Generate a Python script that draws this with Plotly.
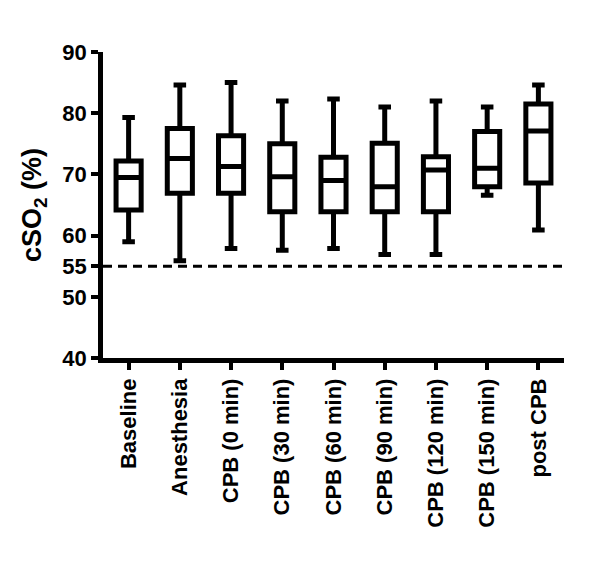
import plotly.graph_objects as go

# box plot summary values (cSO2 %)
stages = ["Baseline", "Anesthesia", "CPB (0 min)", "CPB (30 min)", "CPB (60 min)",
          "CPB (90 min)", "CPB (120 min)", "CPB (150 min)", "post CPB"]
low = [59.0, 55.9, 57.9, 57.6, 57.9, 56.9, 56.9, 66.6, 60.9]
q1 = [64.2, 66.9, 66.9, 63.9, 63.9, 63.9, 63.9, 68.0, 68.6]
med = [69.5, 72.6, 71.3, 69.6, 69.0, 68.0, 70.7, 71.0, 77.1]
q3 = [72.2, 77.5, 76.3, 75.0, 72.8, 75.1, 72.9, 77.0, 81.5]
high = [79.3, 84.6, 85.0, 82.0, 82.3, 81.0, 82.0, 81.0, 84.6]

threshold = 55
yticks = [40, 50, 55, 60, 70, 80, 90]

fnt = "Liberation Sans, Arial, sans-serif"

fig = go.Figure()
fig.add_trace(go.Box(
    x=stages, q1=q1, median=med, q3=q3, lowerfence=low, upperfence=high,
    fillcolor="white", line=dict(color="black", width=5),
    whiskerwidth=0.5, boxpoints=False, showlegend=False,
))

# dashed reference line at 55 %
fig.add_shape(type="line", xref="paper", x0=0, x1=1, y0=threshold, y1=threshold,
              line=dict(color="black", width=3, dash="9px,6px"))

# page body adds 8px, so margins are offset to match
fig.update_layout(
    width=600, height=568,
    margin=dict(l=95, r=44, t=44, b=218),
    plot_bgcolor="white", paper_bgcolor="white",
    boxgap=0.3,
    font=dict(family=fnt, color="black"),
)
fig.update_xaxes(
    range=[-0.5, 8.5], showline=True, linewidth=4.5, linecolor="black",
    ticks="outside", ticklen=7, tickwidth=4, tickcolor="black",
    tickangle=-90, tickfont=dict(family=fnt, size=22, weight="bold"),
    showgrid=False, zeroline=False,
)
fig.update_yaxes(
    range=[40, 90], tickvals=yticks, showline=True, linewidth=4.5, linecolor="black",
    ticks="outside", ticklen=7, tickwidth=4, tickcolor="black",
    tickfont=dict(family=fnt, size=22, weight="bold"),
    title=dict(text="cSO<sub>2</sub> (%)", standoff=14,
               font=dict(family=fnt, size=27, weight="bold")),
    showgrid=False, zeroline=False,
)

fig.write_html("out.html")
